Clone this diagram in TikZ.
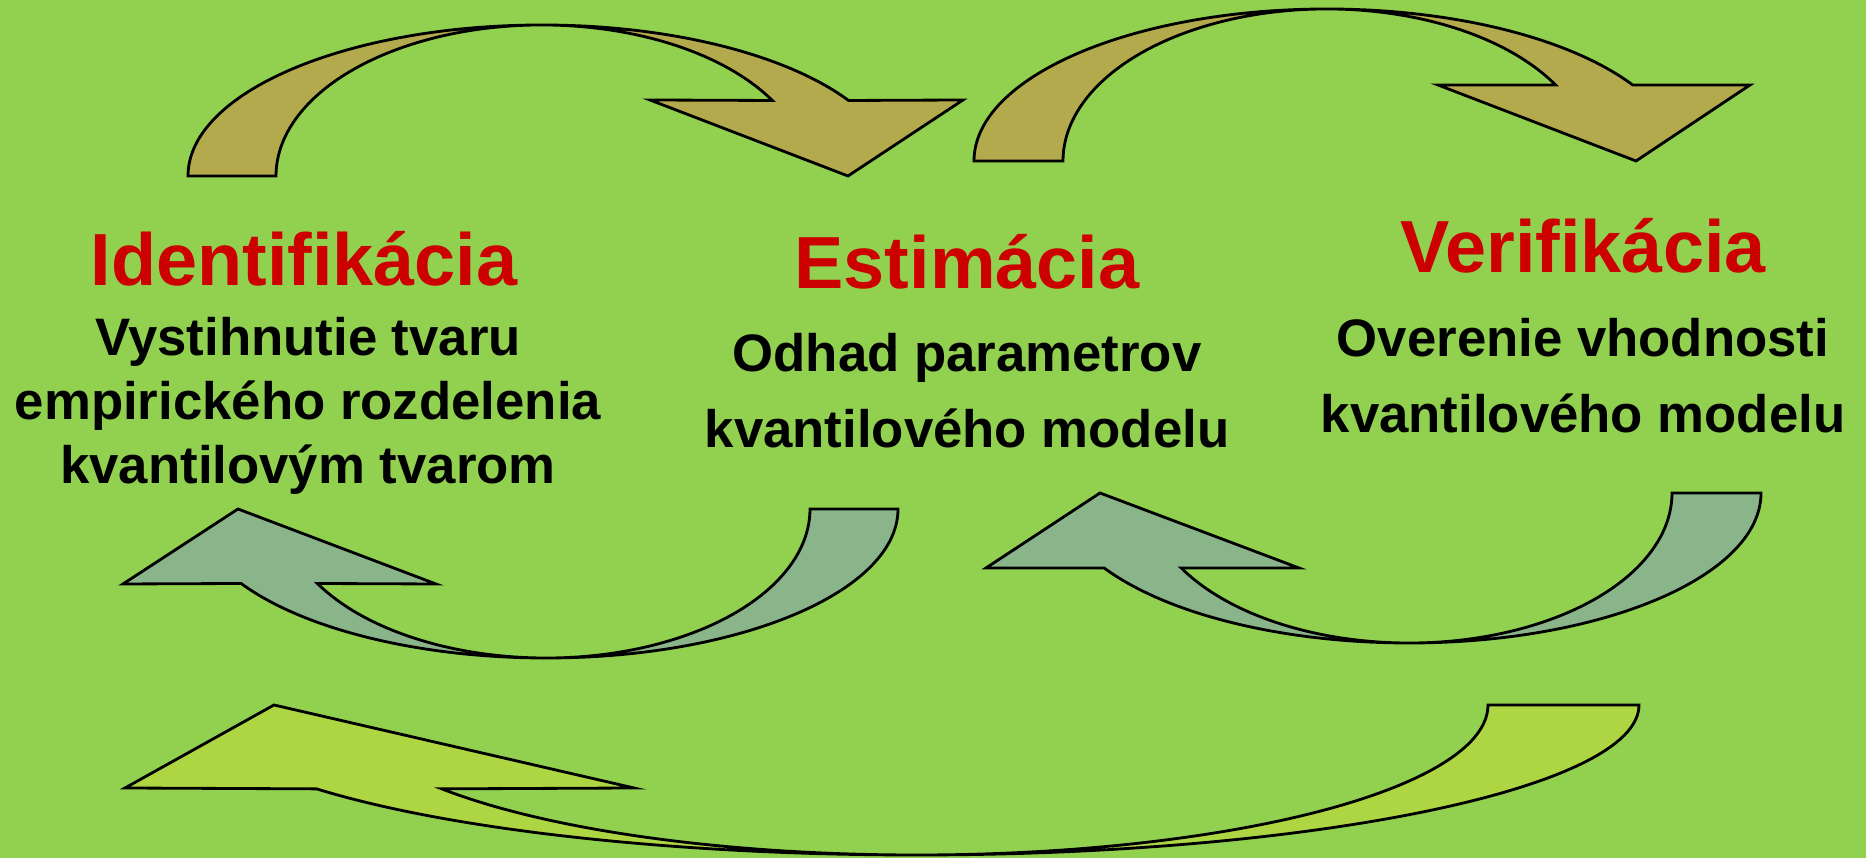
\documentclass[tikz,border=0pt]{standalone}
\usepackage{fontspec}
\setmainfont{Liberation Sans}
\usepackage{xcolor}
\usepackage{tikz}
\usetikzlibrary{positioning}

\definecolor{bggreen}{RGB}{146,208,80}
\definecolor{stagered}{RGB}{204,0,0}
\definecolor{fwdfill}{RGB}{178,170,76}
\definecolor{backfill}{RGB}{138,180,138}
\definecolor{loopfill}{RGB}{174,214,66}

\begin{document}
\begin{tikzpicture}[
    x=0.01cm, y=0.01cm,
    stage/.style={
        font=\bfseries\fontsize{21}{25}\selectfont,
        text=stagered,
        inner sep=0pt
    },
    desc/.style={
        font=\bfseries\fontsize{15}{21.6}\selectfont,
        align=center,
        inner sep=0pt
    },
    bigarrow/.style={
        draw=black,
        line width=0.8pt,
        line join=miter
    },
    fwd/.style={bigarrow, fill=fwdfill},
    back/.style={bigarrow, fill=backfill},
    loopback/.style={bigarrow, fill=loopfill}
]

% background
\fill[bggreen] (0,0) rectangle (1866,858);
\useasboundingbox (0,0) rectangle (1866,858);

% stages
\node[stage, anchor=base] (ident) at (304,572) {Identifikácia};
\node[stage, anchor=base] (estim) at (967,569) {Estimácia};
\node[stage, anchor=base] (verif) at (1583,585) {Verifikácia};

\node[desc, font=\bfseries\fontsize{15}{18.1}\selectfont,
      below=0.31cm of ident.base, xshift=0.04cm] (identtxt)
    {Vystihnutie tvaru\\empirického rozdelenia\\kvantilovým tvarom};
\node[desc, below=0.44cm of estim.base] (estimtxt)
    {Odhad parametrov\\kvantilového modelu};
\node[desc, below=0.45cm of verif.base] (veriftxt)
    {Overenie vhodnosti\\kvantilového modelu};

% forward arrows (top)
\draw[fwd] (188,682)
    arc[start angle=180, end angle=30, x radius=354, y radius=151]
    -- (963,758) -- (848,682) -- (650,758)
    -- ([shift={(542,682)}]30:266 and 151)
    arc[start angle=30, end angle=180, x radius=266, y radius=151]
    -- cycle;

\draw[fwd] (974,697)
    arc[start angle=180, end angle=30, x radius=353, y radius=152]
    -- (1750,773) -- (1636,697) -- (1438,773)
    -- ([shift={(1327,697)}]30:264 and 152)
    arc[start angle=30, end angle=180, x radius=264, y radius=152]
    -- cycle;

% backward arrows (below the texts)
\draw[back] (898,349)
    arc[start angle=0, end angle=-150, x radius=352, y radius=149]
    -- (123,274) -- (238,349) -- (436,274)
    -- ([shift={(546,349)}]-150:264 and 149)
    arc[start angle=-150, end angle=0, x radius=264, y radius=149]
    -- cycle;

\draw[back] (1761,365)
    arc[start angle=0, end angle=-150, x radius=352, y radius=150]
    -- (986,290) -- (1100,365) -- (1299,290)
    -- ([shift={(1409,365)}]-150:263 and 150)
    arc[start angle=-150, end angle=0, x radius=263, y radius=150]
    -- cycle;

% long arrow back to the start
\draw[loopback] (1639,153)
    arc[start angle=0, end angle=-146, x radius=723, y radius=150]
    -- (125,70) -- (274,153) -- (634,70)
    -- ([shift={(916,153)}]-146:572 and 150)
    arc[start angle=-146, end angle=0, x radius=572, y radius=150]
    -- cycle;

\end{tikzpicture}
\end{document}
